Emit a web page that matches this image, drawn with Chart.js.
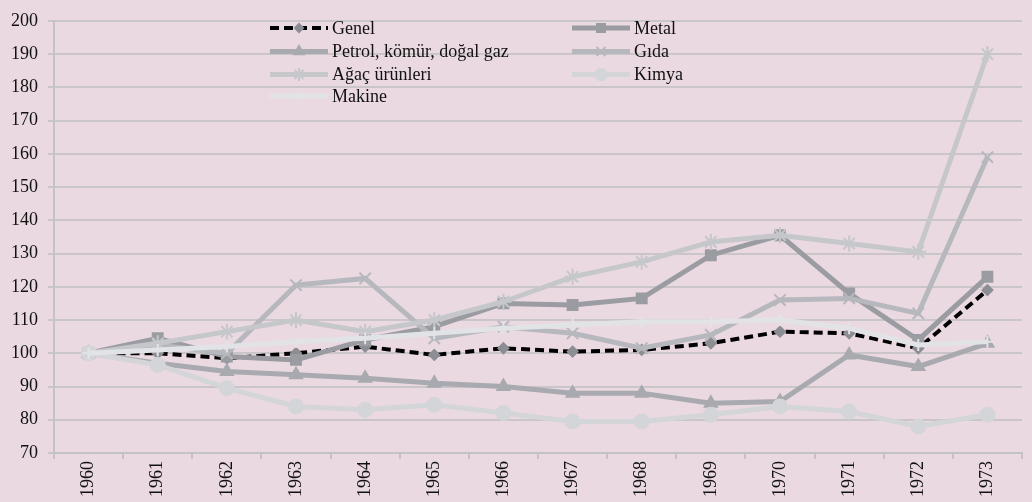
<!DOCTYPE html>
<html>
<head>
<meta charset="utf-8">
<script src="https://cdn.jsdelivr.net/npm/chart.js@4/dist/chart.umd.min.js"></script>
<style>
  html, body { margin: 0; padding: 0; background: #ebd9e1; }
  #wrap { width: 1032px; height: 502px; }
</style>
</head>
<body>
<div id="wrap"><canvas id="lineChart"></canvas></div>
<script>
const years = ['1960', '1961', '1962', '1963', '1964', '1965', '1966', '1967', '1968', '1969', '1970', '1971', '1972', '1973'];

const genel  = [100, 100, 98.5, 100, 102, 99.5, 101.5, 100.5, 101, 103, 106.5, 106, 101.5, 119];
const metal  = [100, 104.5, 99, 98, 104, 108, 115, 114.5, 116.5, 129.5, 135.5, 118, 104, 123];
const petrol = [100, 97, 94.5, 93.5, 92.5, 91, 90, 88, 88, 85, 85.5, 99.5, 96, 103];
const gida   = [100, 102.5, 100, 120.5, 122.5, 104.5, 108, 106, 101.5, 105.5, 116, 116.5, 112, 159];
const agac   = [100, 103, 106.5, 110, 106.5, 110, 115.5, 123, 127.5, 133.5, 135.5, 133, 130.5, 190];
const kimya  = [100, 96.5, 89.5, 84, 83, 84.5, 82, 79.5, 79.5, 81.5, 84, 82.5, 78, 81.5];
const makine = [100, 101, 102, 103.5, 104.5, 106, 107.5, 108.5, 109.5, 109.5, 110, 107.5, 102.5, 103.5];

const yTicks = [70, 80, 90, 100, 110, 120, 130, 140, 150, 160, 170, 180, 190, 200];

const font = "'Liberation Serif', 'Times New Roman', serif";

function series(label, data, color, pointStyle, radius, order, extra) {
  return Object.assign({
    label: label,
    data: data,
    borderColor: color,
    backgroundColor: color,
    borderWidth: 5,
    pointStyle: pointStyle,
    pointRadius: radius,
    pointBorderWidth: 2,
    pointBackgroundColor: color,
    pointBorderColor: color,
    tension: 0,
    order: order
  }, extra || {});
}

// legend drawn inside the plot, two columns like the original
const legendPlugin = {
  id: 'innerLegend',
  afterDraw(chart) {
    const ctx = chart.ctx;
    const cols = [270, 572];
    const rows = [28, 51.5, 74.5, 96];
    ctx.save();
    chart.data.datasets.forEach((ds, i) => {
      const x = cols[i % 2];
      const y = rows[Math.floor(i / 2)];
      ctx.save();
      ctx.strokeStyle = ds.borderColor;
      ctx.lineWidth = ds.borderWidth;
      ctx.setLineDash(ds.borderDash || []);
      ctx.beginPath();
      ctx.moveTo(x, y);
      ctx.lineTo(x + 58, y);
      ctx.stroke();
      ctx.restore();
      if (Chart.helpers && Chart.helpers.drawPoint) {
        ctx.save();
        ctx.fillStyle = ds.pointBackgroundColor;
        ctx.strokeStyle = ds.pointBorderColor;
        ctx.lineWidth = ds.pointBorderWidth;
        Chart.helpers.drawPoint(ctx, {
          pointStyle: ds.pointStyle,
          radius: ds.pointRadius * 0.8,
          rotation: 0,
          borderWidth: ds.pointBorderWidth
        }, x + 29, y);
        ctx.restore();
      }
      ctx.fillStyle = '#111';
      ctx.font = '18px ' + font;
      ctx.textBaseline = 'middle';
      ctx.fillText(ds.label, x + 62, y + 1);
    });
    ctx.restore();
  }
};

new Chart(document.getElementById('lineChart'), {
  type: 'line',
  data: {
    labels: years,
    datasets: [
      series('Genel', genel, '#000000', 'rectRot', 5, 7, {
        borderWidth: 4, borderDash: [9, 5],
        pointBackgroundColor: '#8c8e94', pointBorderColor: '#8c8e94'
      }),
      series('Metal', metal, '#9a9ca2', 'rect', 7, 6),
      series('Petrol, kömür, doğal gaz', petrol, '#a8aaaf', 'triangle', 7, 5),
      series('Gıda', gida, '#b6b8bd', 'crossRot', 8, 4),
      series('Ağaç ürünleri', agac, '#c5c7cb', 'star', 8, 3),
      series('Kimya', kimya, '#d3d5d9', 'circle', 7, 2),
      series('Makine', makine, '#e2e3e6', 'cross', 6, 1)
    ]
  },
  options: {
    responsive: true,
    maintainAspectRatio: false,
    animation: false,
    layout: { padding: { top: 14, right: 7, left: 0, bottom: 0 } },
    plugins: {
      legend: { display: false },
      tooltip: { enabled: false }
    },
    scales: {
      x: {
        offset: true,
        grid: { drawOnChartArea: false, offset: true, tickLength: 6, color: '#c4c2c4', lineWidth: 2 },
        border: { color: '#c4c2c4', width: 2 },
        ticks: {
          color: '#111',
          font: { family: font, size: 18 },
          maxRotation: 90,
          minRotation: 90,
          padding: 2
        },
        afterFit(scale) { scale.height = 49; }
      },
      y: {
        min: 70,
        max: 200,
        afterBuildTicks(scale) { scale.ticks = yTicks.map(v => ({ value: v })); },
        grid: { color: '#c9c5c8', lineWidth: 2, tickLength: 6 },
        border: { color: '#c4c2c4', width: 2 },
        ticks: {
          color: '#111',
          font: { family: font, size: 18 },
          padding: 10
        },
        afterFit(scale) { scale.width = 54; }
      }
    }
  },
  plugins: [legendPlugin]
});
</script>
</body>
</html>
